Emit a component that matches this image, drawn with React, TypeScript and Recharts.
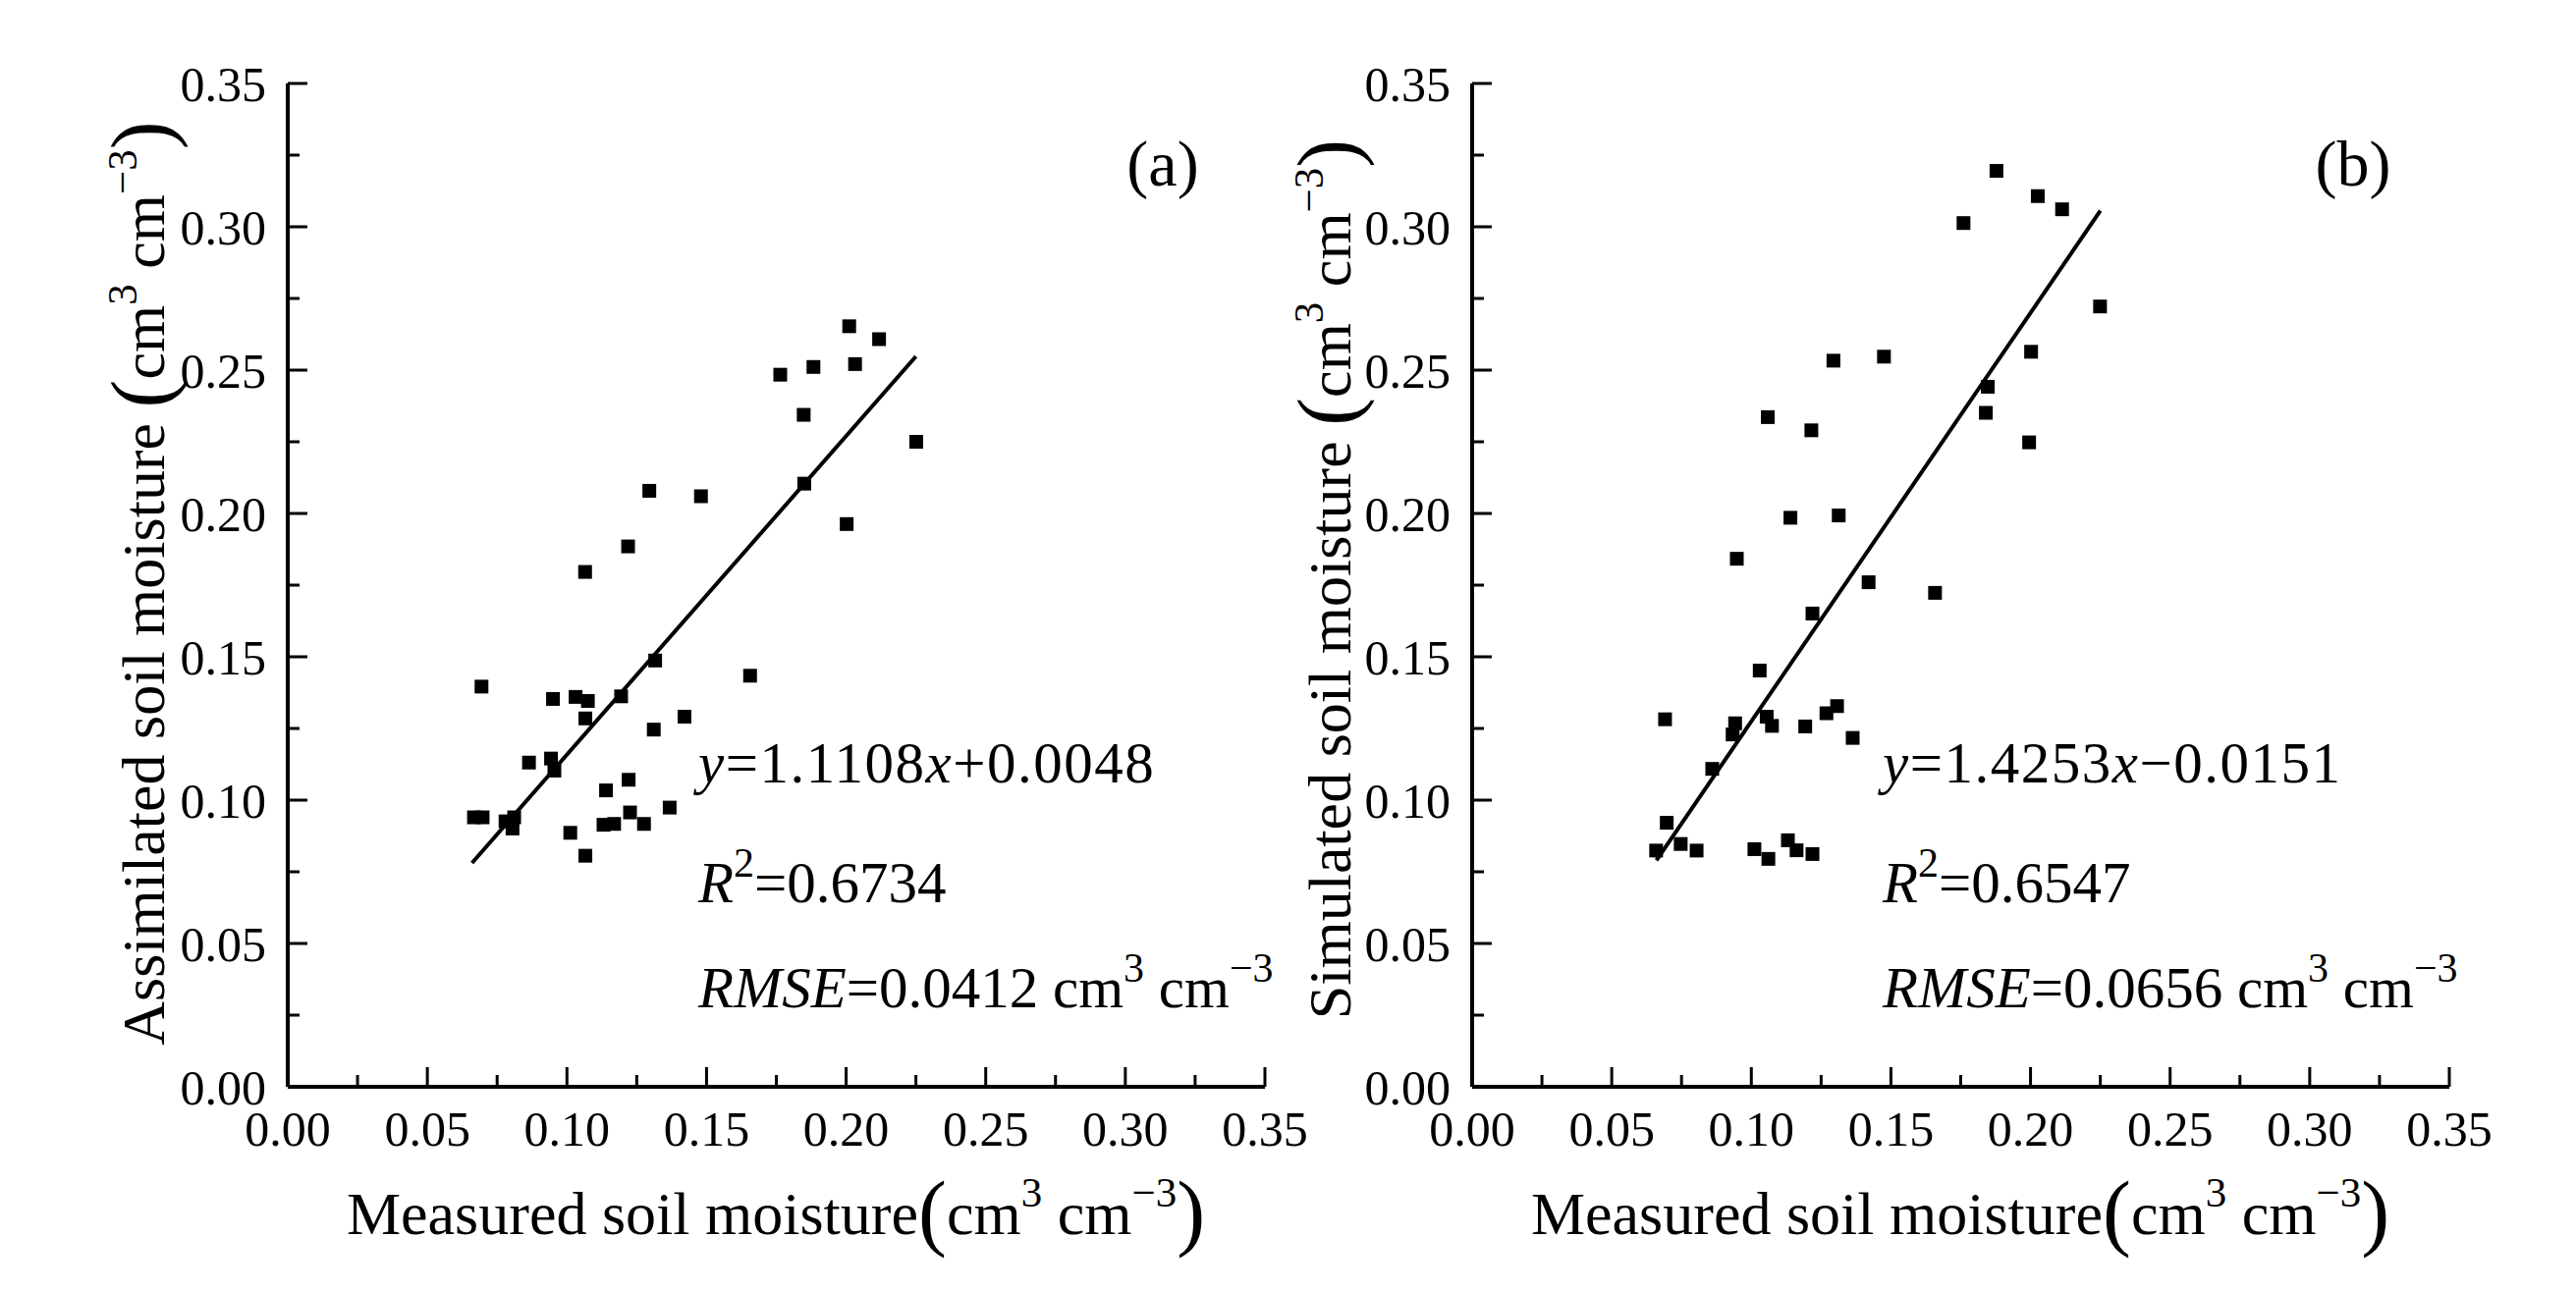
import React from "react";
import { ScatterChart, Scatter, XAxis, YAxis } from "recharts";

// axis ticks every 0.025, labels every 0.05
const axisTicks = [0, 0.025, 0.05, 0.075, 0.1, 0.125, 0.15, 0.175, 0.2, 0.225, 0.25, 0.275, 0.3, 0.325, 0.35];

// panel (a): measured vs assimilated
const measuredA = [
  0.2011, 0.2118, 0.2032, 0.1883, 0.1764, 0.1848, 0.2251, 0.185, 0.2002, 0.1295,
  0.148, 0.1219, 0.1065, 0.0694, 0.095, 0.1031, 0.1075, 0.1194, 0.1316, 0.1656,
  0.1066, 0.1311, 0.1421, 0.0864, 0.0943, 0.0955, 0.1221, 0.114, 0.1368, 0.1226,
  0.1131, 0.1169, 0.1276, 0.1012, 0.1066, 0.0667, 0.0698, 0.078, 0.0805, 0.0811,
];
const assimilatedA = [
  0.2653, 0.2608, 0.2521, 0.2511, 0.2484, 0.2344, 0.225, 0.2104, 0.1963, 0.2079,
  0.206, 0.1885, 0.1796, 0.1396, 0.1353, 0.136, 0.1346, 0.1362, 0.1487, 0.1434,
  0.1285, 0.1246, 0.1291, 0.1131, 0.1145, 0.1103, 0.1071, 0.1034, 0.0974, 0.0957,
  0.0914, 0.0917, 0.0917, 0.0886, 0.0806, 0.094, 0.094, 0.0926, 0.0901, 0.094,
];
const fitXA = [0.066, 0.225];
const fitYA = [0.0781, 0.2548];

// panel (b): measured vs simulated
const measuredB = [
  0.1878, 0.2026, 0.2113, 0.176, 0.2249, 0.2002, 0.1847, 0.184, 0.1995, 0.1294,
  0.1475, 0.1059, 0.1215, 0.114, 0.1313, 0.0948, 0.142, 0.1658, 0.1219, 0.103,
  0.0691, 0.0942, 0.0933, 0.1055, 0.1074, 0.1193, 0.1269, 0.1307, 0.1363, 0.086,
  0.0697, 0.0659, 0.0747, 0.0804, 0.1011, 0.1061, 0.1131, 0.1162, 0.1219,
];
const simulatedB = [
  0.3195, 0.3107, 0.3061, 0.3013, 0.2722, 0.2564, 0.2442, 0.2351, 0.2248, 0.2533,
  0.2547, 0.2336, 0.229, 0.1985, 0.1993, 0.1842, 0.176, 0.1723, 0.1651, 0.1452,
  0.1282, 0.1268, 0.1229, 0.1291, 0.1259, 0.1257, 0.1303, 0.1328, 0.1217, 0.1109,
  0.0921, 0.0824, 0.0847, 0.0824, 0.0829, 0.0795, 0.086, 0.0825, 0.0812,
];
const fitXB = [0.066, 0.225];
const fitYB = [0.079, 0.3056];

const FONT = "Liberation Serif";

const toPoints = (xs: number[], ys: number[]) => xs.map((x, i) => ({ x, y: ys[i] }));

const isMajor = (v: number) => Math.round(v * 1000) % 50 === 0;

const XTick = (props: any) => {
  const { x, y, payload } = props;
  const major = isMajor(payload.value);
  return (
    <g>
      <line x1={x} x2={x} y1={y} y2={y - (major ? 20 : 12)} stroke="#000" strokeWidth={3} />
      {major && (
        <text x={x} y={y + 60} textAnchor="middle" fontFamily={FONT} fontSize={50} fill="#000">
          {payload.value.toFixed(2)}
        </text>
      )}
    </g>
  );
};

const YTick = (props: any) => {
  const { x, y, payload } = props;
  const major = isMajor(payload.value);
  return (
    <g>
      <line x1={x} x2={x + (major ? 20 : 12)} y1={y} y2={y} stroke="#000" strokeWidth={3} />
      {major && (
        <text x={x - 22} y={y} dy="0.35em" textAnchor="end" fontFamily={FONT} fontSize={50} fill="#000">
          {payload.value.toFixed(2)}
        </text>
      )}
    </g>
  );
};

const Square = (props: any) => (
  <rect x={props.cx - 7} y={props.cy - 7} width={14} height={14} fill="#000" />
);

const Units = ({ size }: { size: number }) => {
  const sup = Math.round(size * 0.7);
  const up = Math.round(size * 0.45);
  const drop = size * 0.1;
  return (
    <>
      <tspan fontSize={size * 1.4} dy={drop}>(</tspan>
      <tspan fontSize={size} dy={-drop}>cm</tspan>
      <tspan fontSize={sup} dy={-up}>3</tspan>
      <tspan fontSize={size} dy={up}> cm</tspan>
      <tspan fontSize={sup} dy={-up}>−3</tspan>
      <tspan fontSize={size * 1.4} dy={up + drop}>)</tspan>
    </>
  );
};

const XTitle = ({ cx, y }: { cx: number; y: number }) => (
  <text x={cx} y={y} textAnchor="middle" fontFamily={FONT} fontSize={62} fill="#000">
    Measured soil moisture
    <Units size={62} />
  </text>
);

const YTitle = ({ x, cy, label }: { x: number; cy: number; label: string }) => (
  <text
    x={x}
    y={cy}
    transform={`rotate(-90, ${x}, ${cy})`}
    textAnchor="middle"
    fontFamily={FONT}
    fontSize={62}
    fill="#000"
  >
    {label + " "}
    <Units size={62} />
  </text>
);

const Stats = ({ x, eq, r2, rmse }: { x: number; eq: string[]; r2: string; rmse: string }) => (
  <g fontFamily={FONT} fontSize={59} fill="#000">
    <text x={x} y={797} letterSpacing={1.5}>
      <tspan fontStyle="italic">y</tspan>
      {eq[0]}
      <tspan fontStyle="italic">x</tspan>
      {eq[1]}
    </text>
    <text x={x} y={919}>
      <tspan fontStyle="italic">R</tspan>
      <tspan fontSize={42} dy={-26}>2</tspan>
      <tspan dy={26}>{r2}</tspan>
    </text>
    <text x={x} y={1026}>
      <tspan fontStyle="italic">RMSE</tspan>
      {rmse + " cm"}
      <tspan fontSize={42} dy={-26}>3</tspan>
      <tspan dy={26}> cm</tspan>
      <tspan fontSize={42} dy={-26}>−3</tspan>
    </text>
  </g>
);

type PanelProps = {
  left: number;
  width: number;
  margin: { top: number; right: number; bottom: number; left: number };
  points: { x: number; y: number }[];
  fit: { x: number; y: number }[];
  tag: string;
  tagX: number;
  yLabel: string;
  yLabelX: number;
  yLabelCy: number;
  xLabelCx: number;
  statsX: number;
  eq: string[];
  r2: string;
  rmse: string;
};

const Panel = (p: PanelProps) => (
  <div style={{ position: "absolute", left: p.left, top: 0 }}>
    <ScatterChart width={p.width} height={1315} margin={p.margin}>
      <XAxis
        type="number"
        dataKey="x"
        domain={[0, 0.35]}
        ticks={axisTicks}
        interval={0}
        tick={<XTick />}
        tickSize={0}
        tickMargin={0}
        tickLine={false}
        axisLine={{ stroke: "#000", strokeWidth: 4 }}
        height={100}
      />
      <YAxis
        type="number"
        dataKey="y"
        domain={[0, 0.35]}
        ticks={axisTicks}
        interval={0}
        tick={<YTick />}
        tickSize={0}
        tickMargin={0}
        tickLine={false}
        axisLine={{ stroke: "#000", strokeWidth: 4 }}
        width={120}
      />
      <Scatter data={p.points} shape={<Square />} isAnimationActive={false} />
      <Scatter
        data={p.fit}
        line={{ stroke: "#000", strokeWidth: 4 }}
        shape={() => <g />}
        isAnimationActive={false}
      />
      <text x={p.tagX} y={189} textAnchor="middle" fontFamily={FONT} fontSize={66} fill="#000">
        {p.tag}
      </text>
      <YTitle x={p.yLabelX} cy={p.yLabelCy} label={p.yLabel} />
      <XTitle cx={p.xLabelCx} y={1257} />
      <Stats x={p.statsX} eq={p.eq} r2={p.r2} rmse={p.rmse} />
    </ScatterChart>
  </div>
);

export default function App() {
  return (
    <div style={{ position: "relative", width: 2623, height: 1315, background: "#fff", overflow: "hidden" }}>
      <style>{"body{margin:0;background:#fff;} .recharts-surface{overflow:visible;}"}</style>
      <Panel
        left={0}
        width={1345}
        margin={{ top: 85, right: 57, bottom: 108, left: 173 }}
        points={toPoints(measuredA, assimilatedA)}
        fit={toPoints(fitXA, fitYA)}
        tag="(a)"
        tagX={1184}
        yLabel="Assimilated soil moisture"
        yLabelX={167}
        yLabelCy={594}
        xLabelCx={790}
        statsX={711}
        eq={["=1.1108", "+0.0048"]}
        r2="=0.6734"
        rmse="=0.0412"
      />
      <Panel
        left={1290}
        width={1333}
        margin={{ top: 85, right: 129, bottom: 108, left: 89 }}
        points={toPoints(measuredB, simulatedB)}
        fit={toPoints(fitXB, fitYB)}
        tag="(b)"
        tagX={1106}
        yLabel="Simulated soil moisture"
        yLabelX={85}
        yLabelCy={590}
        xLabelCx={706}
        statsX={627}
        eq={["=1.4253", "−0.0151"]}
        r2="=0.6547"
        rmse="=0.0656"
      />
    </div>
  );
}
